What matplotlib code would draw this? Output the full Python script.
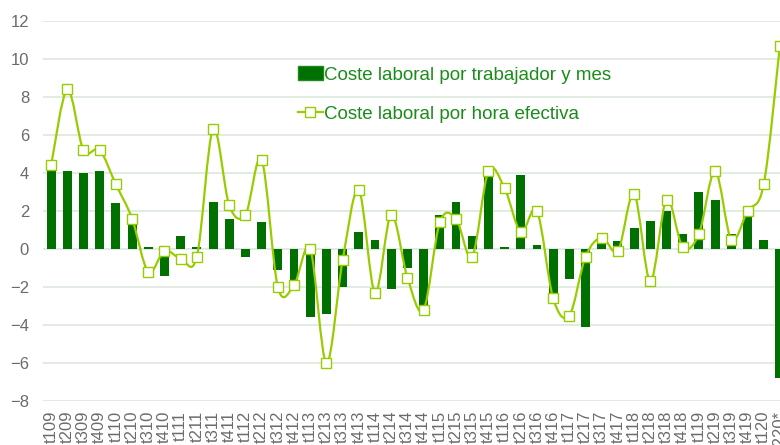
import numpy as np
import matplotlib.pyplot as plt
from matplotlib.path import Path
from matplotlib.patches import PathPatch, Patch
from matplotlib.lines import Line2D

# Trimestres 2009T1 - 2020T2
trimestres = ["t109", "t209", "t309", "t409",
              "t110", "t210", "t310", "t410",
              "t111", "t211", "t311", "t411",
              "t112", "t212", "t312", "t412",
              "t113", "t213", "t313", "t413",
              "t114", "t214", "t314", "t414",
              "t115", "t215", "t315", "t415",
              "t116", "t216", "t316", "t416",
              "t117", "t217", "t317", "t417",
              "t118", "t218", "t318", "t418",
              "t119", "t219", "t319", "t419",
              "t120", "t220*"]

# Coste laboral por trabajador y mes (barras)
coste_trabajador = [4.1, 4.1, 4.0, 4.1,
                    2.4, 1.5, 0.1, -1.4,
                    0.7, 0.1, 2.5, 1.6,
                    -0.4, 1.4, -1.1, -2.2,
                    -3.6, -3.4, -2.0, 0.9,
                    0.5, -2.1, -1.0, -3.0,
                    1.8, 2.5, 0.7, 4.3,
                    0.1, 3.9, 0.2, -2.6,
                    -1.6, -4.1, 0.4, 0.4,
                    1.1, 1.5, 2.0, 0.8,
                    3.0, 2.6, 0.8, 1.8,
                    0.5, -6.8]

# Coste laboral por hora efectiva (línea)
coste_hora = [4.4, 8.4, 5.2, 5.2,
              3.4, 1.6, -1.2, -0.1,
              -0.5, -0.4, 6.3, 2.3,
              1.8, 4.7, -2.0, -1.9,
              0.0, -6.0, -0.6, 3.1,
              -2.3, 1.8, -1.5, -3.2,
              1.4, 1.6, -0.4, 4.1,
              3.2, 0.9, 2.0, -2.6,
              -3.5, -0.4, 0.6, -0.1,
              2.9, -1.7, 2.6, 0.1,
              0.8, 4.1, 0.5, 2.0,
              3.4, 10.7]

verde_oscuro = "#007000"
verde_claro = "#99cc00"
gris = "#6b6b6b"

plt.rcParams['font.family'] = ['Liberation Sans', 'DejaVu Sans']

fig = plt.figure(figsize=(7.8, 4.45), dpi=100)
ax = fig.add_axes([43/780, 44/445, 745/780, 380/445])

x = np.arange(len(trimestres))
ax.bar(x, coste_trabajador, width=0.55, color=verde_oscuro, zorder=2)

# linea suavizada tipo Excel (bezier catmull-rom)
pts = np.column_stack([x, coste_hora]).astype(float)
ext = np.vstack([pts[0], pts, pts[-1]])
verts = [tuple(pts[0])]
codes = [Path.MOVETO]
for i in range(len(pts) - 1):
    p0, p1, p2, p3 = ext[i], ext[i+1], ext[i+2], ext[i+3]
    c1 = p1 + (p2 - p0) / 6
    c2 = p2 - (p3 - p1) / 6
    verts += [tuple(c1), tuple(c2), tuple(p2)]
    codes += [Path.CURVE4] * 3
ax.add_patch(PathPatch(Path(verts, codes), fill=False, edgecolor=verde_claro,
                       lw=1.6, zorder=3))
ax.plot(x, coste_hora, ls='none', marker='s', ms=7, mfc='white',
        mec=verde_claro, mew=1.0, zorder=4)

ax.set_xlim(-0.5, len(trimestres) - 0.5)
ax.set_ylim(-8, 12)
ax.set_yticks(np.arange(-8, 13, 2))
ax.set_xticks(x)
ax.set_xticklabels(trimestres, rotation=90, fontsize=12, color=gris)
ax.tick_params(axis='y', length=0, pad=10, labelsize=12, labelcolor=gris)
ax.tick_params(axis='x', length=0, pad=7)
for lbl in ax.get_xticklabels():
    lbl.set_verticalalignment('top')
ax.grid(axis='y', color='#dce8dc', lw=1.2, zorder=0)
ax.set_axisbelow(True)
for s in ax.spines.values():
    s.set_visible(False)

handles = [Patch(facecolor=verde_oscuro, edgecolor='#1e8a1e', lw=1),
           Line2D([0], [0], color=verde_claro, lw=1.6, marker='s', ms=7,
                  mfc='white', mec=verde_claro)]
leg = ax.legend(handles, ["Coste laboral por trabajador y mes",
                          "Coste laboral por hora efectiva"],
                loc='upper left', bbox_to_anchor=(0.319, 0.926),
                frameon=False, fontsize=13.5, labelspacing=1.15,
                handlelength=1.35, handletextpad=0.05, handleheight=0.8)
for t in leg.get_texts():
    t.set_color("#1a8c1a")

fig.savefig("out.png", dpi=100)
